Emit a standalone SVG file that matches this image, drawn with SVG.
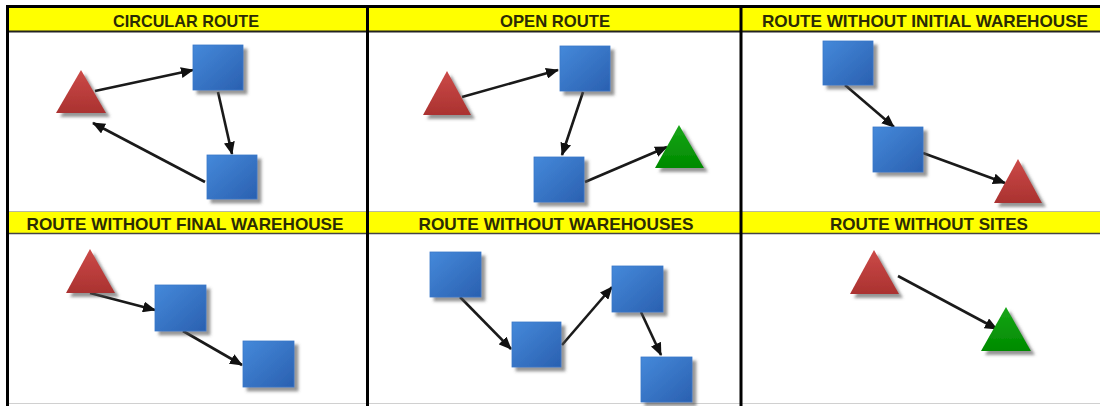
<svg xmlns="http://www.w3.org/2000/svg" width="1100" height="406" viewBox="0 0 1100 406">
<defs>
<linearGradient id="gBlue" x1="0" y1="0" x2="1" y2="1">
<stop offset="0" stop-color="#4589da"/>
<stop offset="1" stop-color="#2a60b0"/>
</linearGradient>
<linearGradient id="gRed" x1="0" y1="0" x2="0" y2="1">
<stop offset="0" stop-color="#cc4a48"/>
<stop offset="1" stop-color="#aa3230"/>
</linearGradient>
<linearGradient id="gGreen" x1="0" y1="0" x2="0" y2="1">
<stop offset="0" stop-color="#17a617"/>
<stop offset="1" stop-color="#008a00"/>
</linearGradient>
<filter id="shadow" x="-20%" y="-20%" width="150%" height="150%">
<feDropShadow dx="4" dy="4" stdDeviation="1.6" flood-color="#505050" flood-opacity="0.6"/>
</filter>
<marker id="arrow" markerUnits="userSpaceOnUse" markerWidth="13" markerHeight="11" refX="12" refY="5.5" orient="auto">
<path d="M0,0 L13,5.5 L0,11 z" fill="#111"/>
</marker>
</defs>
<style>
.hdr{fill:#ffff00}
.ht{font-family:"Liberation Sans",Arial,sans-serif;font-weight:bold;font-size:17px;fill:#2b2b05;text-anchor:middle}
.sq{fill:url(#gBlue);stroke:#3a78c8;stroke-width:0.8;filter:url(#shadow)}
.tr{fill:url(#gRed);filter:url(#shadow)}
.tg{fill:url(#gGreen);filter:url(#shadow)}
.ar{stroke:#1a1a1a;stroke-width:2.6;fill:none;marker-end:url(#arrow)}
.grid{stroke:#000;stroke-width:3;fill:none}
</style>
<rect x="0" y="0" width="1100" height="406" fill="#ffffff"/>

<g id="grid">
<rect class="hdr" x="7" y="8" width="1093" height="23"/>
<rect class="hdr" x="7" y="212" width="1093" height="21"/>
<line x1="6" y1="6.5" x2="1100" y2="6.5" class="grid"/>
<line x1="7" y1="31.5" x2="1100" y2="31.5" stroke="#222" stroke-width="2"/>
<line x1="7" y1="211.5" x2="1100" y2="211.5" stroke="#b8b8a0" stroke-width="1"/>
<line x1="7" y1="233.5" x2="1100" y2="233.5" stroke="#444" stroke-width="1.5"/>
<line x1="7" y1="403.5" x2="1100" y2="403.5" stroke="#d0d0d0" stroke-width="1"/>
<line x1="7.5" y1="5" x2="7.5" y2="406" class="grid"/>
<line x1="367.5" y1="5" x2="367.5" y2="406" class="grid"/>
<line x1="741" y1="5" x2="741" y2="406" class="grid"/>
</g>

<g id="headers">
<text class="ht" x="186" y="27" textLength="146" lengthAdjust="spacingAndGlyphs">CIRCULAR ROUTE</text>
<text class="ht" x="555" y="27" textLength="110" lengthAdjust="spacingAndGlyphs">OPEN ROUTE</text>
<text class="ht" x="925" y="27" textLength="326" lengthAdjust="spacingAndGlyphs">ROUTE WITHOUT INITIAL WAREHOUSE</text>
<text class="ht" x="185" y="230" textLength="317" lengthAdjust="spacingAndGlyphs">ROUTE WITHOUT FINAL WAREHOUSE</text>
<text class="ht" x="556" y="230" textLength="275" lengthAdjust="spacingAndGlyphs">ROUTE WITHOUT WAREHOUSES</text>
<text class="ht" x="929" y="230" textLength="198" lengthAdjust="spacingAndGlyphs">ROUTE WITHOUT SITES</text>
</g>

<g id="connectors">
<line class="ar" x1="95" y1="91" x2="193" y2="70"/>
<line class="ar" x1="218" y1="92" x2="232" y2="154"/>
<line class="ar" x1="205" y1="182" x2="93" y2="123"/>

<line class="ar" x1="462" y1="97" x2="558" y2="70"/>
<line class="ar" x1="583" y1="92" x2="562" y2="155"/>
<line class="ar" x1="585" y1="182" x2="667" y2="147"/>

<line class="ar" x1="845" y1="85" x2="894" y2="127"/>
<line class="ar" x1="923" y1="153" x2="1005" y2="183"/>

<line class="ar" x1="90" y1="293" x2="155" y2="310"/>
<line class="ar" x1="183" y1="331" x2="242" y2="365"/>

<line class="ar" x1="460" y1="297" x2="511" y2="349"/>
<line class="ar" x1="562" y1="345" x2="612" y2="287"/>
<line class="ar" x1="641" y1="312" x2="661" y2="355"/>

<line class="ar" x1="898" y1="276" x2="997" y2="329"/>
</g>

<g id="circular-route">
<polygon id="c-wh" class="tr" points="81,70 106,113 56,113"/>
<rect id="c-s1" class="sq" x="193" y="45" width="50" height="45"/>
<rect id="c-s2" class="sq" x="207" y="155" width="50" height="44"/>
</g>

<g id="open-route">
<polygon id="o-wh1" class="tr" points="447,71 471,115 423,115"/>
<rect id="o-s1" class="sq" x="560" y="46" width="50" height="45"/>
<rect id="o-s2" class="sq" x="534" y="157" width="50" height="45"/>
<polygon id="o-wh2" class="tg" points="679,125 704,168 655,168"/>
</g>

<g id="route-without-initial">
<rect id="i-s1" class="sq" x="823" y="41" width="50" height="44"/>
<rect id="i-s2" class="sq" x="873" y="127" width="50" height="45"/>
<polygon id="i-wh" class="tr" points="1018,159 1042,203 994,203"/>
</g>

<g id="route-without-final">
<polygon id="f-wh" class="tr" points="90,249 115,293 66,293"/>
<rect id="f-s1" class="sq" x="155" y="285" width="51" height="46"/>
<rect id="f-s2" class="sq" x="243" y="341" width="51" height="46"/>
</g>

<g id="route-without-warehouses">
<rect id="w-s1" class="sq" x="430" y="252" width="51" height="45"/>
<rect id="w-s2" class="sq" x="512" y="322" width="49" height="45"/>
<rect id="w-s3" class="sq" x="612" y="266" width="51" height="46"/>
<rect id="w-s4" class="sq" x="641" y="357" width="51" height="45"/>
</g>

<g id="route-without-sites">
<polygon id="s-wh1" class="tr" points="874,250 899,294 850,294"/>
<polygon id="s-wh2" class="tg" points="1006,307 1031,351 981,351"/>
</g>
</svg>
